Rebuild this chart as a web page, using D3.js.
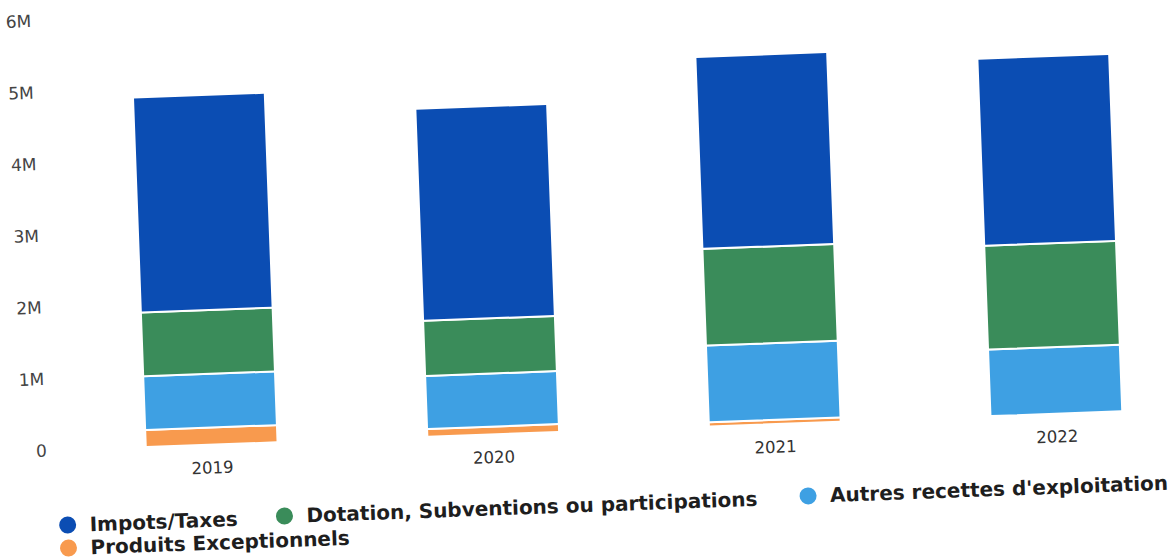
<!DOCTYPE html>
<html><head><meta charset="utf-8">
<script src="https://cdn.jsdelivr.net/npm/d3@7"></script>
<style>body{margin:0;background:#fff;} svg{display:block;}</style>
</head><body>
<svg id="chart" width="1176" height="559"></svg>
<script>
const years = ["2019", "2020", "2021", "2022"];
const impots = [3.0e6, 2.96e6, 2.68e6, 2.61e6];
const dotation = [0.89e6, 0.77e6, 1.35e6, 1.45e6];
const autres = [0.75e6, 0.74e6, 1.07e6, 0.93e6];
const produits = [0.24e6, 0.11e6, 0.06e6, 0];
const seriesNames = ["Impots/Taxes", "Dotation, Subventions ou participations", "Autres recettes d'exploitation", "Produits Exceptionnels"];
const seriesColors = ["#0b4db3", "#3a8c5a", "#3ea0e3", "#f89a4e"];
const yTicks = [0, 1e6, 2e6, 3e6, 4e6, 5e6, 6e6];

const svg = d3.select("#chart");
// the reference is a slightly tilted scan: rotate the whole drawing
const g = svg.append("g").attr("transform", "rotate(-2.1,40,453)");

const x = d3.scaleBand().domain(years).range([71, 1198]).paddingInner(0.532).paddingOuter(0.266);
const y = d3.scaleLinear().domain([0, 6e6]).range([451, 21]);

const table = years.map((yr, i) => ({year: yr, s0: produits[i], s1: autres[i], s2: dotation[i], s3: impots[i]}));
// stack from bottom: produits, autres, dotation, impots
const stack = d3.stack().keys(["s0", "s1", "s2", "s3"])(table);
const colorByKey = {s0: seriesColors[3], s1: seriesColors[2], s2: seriesColors[1], s3: seriesColors[0]};

stack.forEach(layer => {
  g.append("g").selectAll("rect").data(layer.filter(d => d[1] - d[0] > 0)).join("rect")
    .attr("x", d => x(d.data.year))
    .attr("width", x.bandwidth())
    .attr("y", d => y(d[1]))
    .attr("height", d => y(d[0]) - y(d[1]))
    .attr("fill", colorByKey[layer.key])
    .attr("stroke", "#ffffff")
    .attr("stroke-width", 2);
});

// y axis
const yAxis = d3.axisLeft(y).tickValues(yTicks).tickSize(0).tickPadding(0)
  .tickFormat(d => d === 0 ? "0" : (d / 1e6) + "M");
const ya = g.append("g").attr("transform", "translate(47,0)").call(yAxis);
ya.select(".domain").remove();
ya.selectAll("text").attr("font-family", "DejaVu Sans").attr("font-size", 17).attr("fill", "#444");

// x axis
const xAxis = d3.axisBottom(x).tickSize(0).tickPadding(0);
const xa = g.append("g").attr("transform", "translate(0,468)").call(xAxis);
xa.select(".domain").remove();
xa.selectAll("text").attr("font-family", "DejaVu Sans").attr("font-size", 16.5).attr("fill", "#333");

// legend
const legendPos = [[65, 526], [282, 525], [806, 524], [65, 549]];
const lg = g.append("g");
seriesNames.forEach((name, i) => {
  const [lx, ly] = legendPos[i];
  lg.append("circle").attr("cx", lx).attr("cy", ly).attr("r", 8.5).attr("fill", seriesColors[i]);
  lg.append("text").attr("x", lx + 22).attr("y", ly + 7).text(name)
    .attr("font-family", "DejaVu Sans").attr("font-weight", "bold").attr("font-size", 20).attr("fill", "#1e1e1e");
});
</script>
</body></html>
